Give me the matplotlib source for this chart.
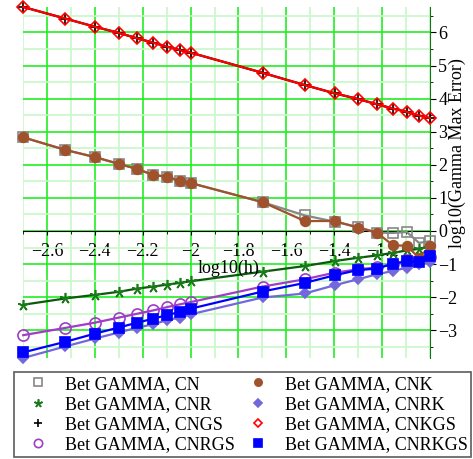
"""
Bet GAMMA max error vs step size, log-log.
"""

import numpy as np
import matplotlib
matplotlib.use('Agg')
import matplotlib.pyplot as plt
from matplotlib.lines import Line2D
from matplotlib.ticker import MultipleLocator

plt.rcParams['font.family'] = ['Liberation Serif', 'DejaVu Serif']
plt.rcParams['font.size'] = 13

# log10(h) for h = 0.002..0.01, 0.02..0.1
logh = [-2.699, -2.523, -2.398, -2.301, -2.222, -2.155, -2.097, -2.046, -2.0,
        -1.699, -1.523, -1.398, -1.301, -1.222, -1.155, -1.097, -1.046, -1.0]

# log10(Gamma max error) per scheme
cn     = [2.83, 2.45, 2.23, 2.03, 1.87, 1.69, 1.64, 1.52, 1.45,
          0.87, 0.47, 0.28, 0.12, -0.05, -0.06, -0.03, -0.36, -0.31]
cnk    = [2.83, 2.45, 2.23, 2.03, 1.87, 1.69, 1.64, 1.50, 1.45,
          0.87, 0.30, 0.30, 0.10, -0.05, -0.43, -0.45, -0.81, -0.46]
cnr    = [-2.23, -2.04, -1.93, -1.84, -1.74, -1.68, -1.62, -1.57, -1.52,
          -1.23, -1.06, -0.91, -0.81, -0.74, -0.66, -0.59, -0.54, -0.46]
cnrk   = [-3.84, -3.49, -3.25, -3.07, -2.92, -2.82, -2.69, -2.62, -2.52,
          -2.01, -1.89, -1.64, -1.46, -1.31, -1.21, -1.11, -1.01, -0.94]
cngs   = [6.77, 6.42, 6.17, 5.99, 5.82, 5.69, 5.57, 5.47, 5.39,
          4.78, 4.41, 4.16, 3.99, 3.83, 3.70, 3.60, 3.49, 3.41]
cnkgs  = [6.77, 6.42, 6.17, 5.99, 5.82, 5.69, 5.57, 5.47, 5.39,
          4.78, 4.41, 4.16, 3.99, 3.83, 3.70, 3.60, 3.49, 3.41]
cnrgs  = [-3.15, -2.93, -2.77, -2.62, -2.50, -2.40, -2.30, -2.22, -2.15,
          -1.68, -1.46, -1.26, -1.16, -1.10, -1.01, -0.88, -0.87, -0.80]
cnrkgs = [-3.67, -3.35, -3.10, -2.92, -2.77, -2.65, -2.54, -2.45, -2.35,
          -1.83, -1.57, -1.34, -1.18, -1.14, -0.99, -0.92, -0.94, -0.77]

# (label, data, line colour, marker, marker face, marker edge, size)
series = [
    ("Bet GAMMA, CN",     cn,     '#888888', 's', 'none',    '#888888', 7),
    ("Bet GAMMA, CNR",    cnr,    '#0a5a0a', (5, 2, 0), '#1a7a1a', '#1a7a1a', 8),
    ("Bet GAMMA, CNGS",   cngs,   '#000000', '+', 'none',    '#000000', 7),
    ("Bet GAMMA, CNRGS",  cnrgs,  '#a03cc8', 'o', 'none',    '#a03cc8', 8),
    ("Bet GAMMA, CNK",    cnk,    '#a0522d', 'o', '#a0522d', '#a0522d', 7),
    ("Bet GAMMA, CNRK",   cnrk,   '#7466dc', 'D', '#7466dc', '#7466dc', 5),
    ("Bet GAMMA, CNKGS",  cnkgs,  '#ff0000', 'D', 'none',    '#ff0000', 6),
    ("Bet GAMMA, CNRKGS", cnrkgs, '#0000ff', 's', '#0000ff', '#0000ff', 7),
]

fig = plt.figure(figsize=(4.73, 4.59), dpi=100)
ax = fig.add_axes([23/473, 101/459, 407/473, 351/459])

handles = []
for lab, y, lc, mk, mf, me, ms in series:
    ax.plot(logh, y, color=lc, lw=1.6, marker=mk, markerfacecolor=mf,
            markeredgecolor=me, markersize=ms, markeredgewidth=1.2,
            clip_on=False, zorder=3)
    handles.append(Line2D([], [], linestyle='none', marker=mk,
                          markerfacecolor=mf, markeredgecolor=me,
                          markersize=ms * 0.75, markeredgewidth=1.2, label=lab))

ax.set_xlim(-2.70, -1.0)
ax.set_ylim(-3.84, 6.77)

ax.xaxis.set_major_locator(MultipleLocator(0.2))
ax.xaxis.set_minor_locator(MultipleLocator(0.1))
ax.yaxis.set_major_locator(MultipleLocator(1))
ax.yaxis.set_minor_locator(MultipleLocator(0.5))
ax.grid(which='major', color='#22ee22', lw=1.2, zorder=0)
ax.grid(which='minor', color='#c8f8c8', lw=1.2, zorder=0)

# axes drawn through y=0 and at the right end
ax.spines['top'].set_visible(False)
ax.spines['left'].set_visible(False)
ax.spines['bottom'].set_position(('data', 0))
ax.spines['bottom'].set_zorder(2)
ax.spines['right'].set_color('#117711')
ax.yaxis.tick_right()
ax.tick_params(axis='x', which='major', direction='out', length=3, pad=6,
               labelsize=13)
ax.tick_params(axis='x', which='minor', direction='out', length=2)
ax.tick_params(axis='y', which='major', direction='out', length=4, pad=2,
               labelsize=13)
ax.tick_params(axis='y', which='minor', direction='out', length=2)
ax.set_xticks([-2.6, -2.4, -2.2, -2.0, -1.8, -1.6, -1.4, -1.2])
ax.set_xticklabels(['\u22122.6', '\u22122.4', '\u22122.2', '\u22122',
                    '\u22121.8', '\u22121.6', '\u22121.4', '\u22121.2'])
ax.set_yticks([-3, -2, -1, 0, 1, 2, 3, 4, 5, 6])
ax.set_yticklabels(['\u22123', '\u22122', '\u22121', '0', '1', '2', '3', '4', '5', '6'])

ax.text(0.504, 0.256, 'log10(h)', transform=ax.transAxes,
        ha='center', va='center', fontsize=13)
ax.text(1.066, 0.584, 'log10(Gamma Max Error)', transform=ax.transAxes,
        ha='center', va='center', rotation=90, fontsize=13)

leg = fig.legend(handles=handles, ncol=2, loc='lower left',
                 bbox_to_anchor=(14/473, 2/459, 457/473, 85/459), mode='expand',
                 frameon=True, fancybox=False, edgecolor='#333333',
                 fontsize=13, handlelength=2.3, handletextpad=0.3,
                 borderpad=0.2, labelspacing=0.18, columnspacing=1.0,
                 borderaxespad=0)
leg.get_frame().set_linewidth(1.2)

plt.savefig('out.png', dpi=100)
